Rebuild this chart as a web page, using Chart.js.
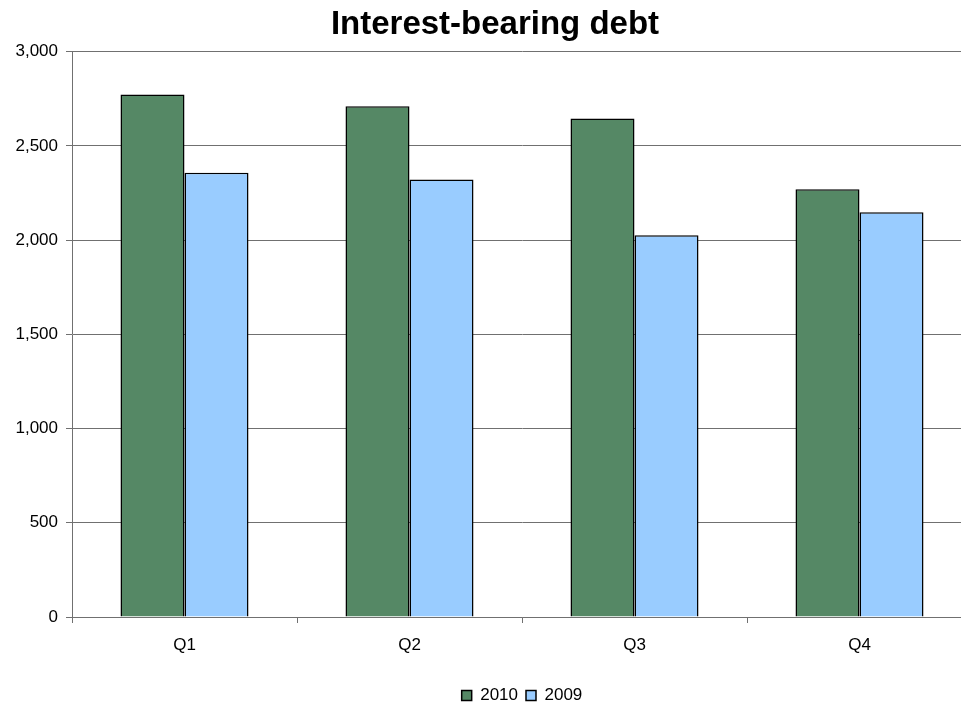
<!DOCTYPE html>
<html>
<head>
<meta charset="utf-8">
<script src="https://cdn.jsdelivr.net/npm/chart.js@4/dist/chart.umd.min.js"></script>
<style>
  html, body { margin: 0; padding: 0; background: #ffffff; overflow: hidden; }
  #wrap { position: relative; width: 980px; height: 704px; }
</style>
</head>
<body>
<div id="wrap"><canvas id="c" width="980" height="704"></canvas></div>
<script>
const chartTitle = 'Interest-bearing debt';
const categories = ['Q1', 'Q2', 'Q3', 'Q4'];
const seriesNames = ['2010', '2009'];
const values2010 = [2772, 2710, 2645, 2270];
const values2009 = [2357, 2321, 2026, 2147];
const yTicks = [0, 500, 1000, 1500, 2000, 2500, 3000];

const axisColor = '#707070';
const fontFamily = 'Arial, "Liberation Sans", sans-serif';

// shift the title slightly right so it sits where the reference has it
const titleShift = {
  id: 'titleShift',
  afterLayout(chart) {
    if (chart.titleBlock) {
      chart.titleBlock.left += 9;
      chart.titleBlock.right += 9;
    }
  }
};

new Chart(document.getElementById('c'), {
  type: 'bar',
  data: {
    labels: categories,
    datasets: [
      { label: seriesNames[0], data: values2010, backgroundColor: '#558865', borderColor: '#000000', borderWidth: 1.5 },
      { label: seriesNames[1], data: values2009, backgroundColor: '#99CCFF', borderColor: '#000000', borderWidth: 1.5 }
    ]
  },
  plugins: [titleShift],
  options: {
    responsive: false,
    animation: false,
    layout: { padding: { left: 0, right: 8, top: 0, bottom: -10 } },
    datasets: { bar: { categoryPercentage: 0.569, barPercentage: 1.0 } },
    plugins: {
      title: {
        display: true,
        text: chartTitle,
        color: '#000000',
        font: { family: fontFamily, size: 33, weight: 'bold' },
        padding: { top: 5, bottom: 7 }
      },
      legend: {
        position: 'bottom',
        fullSize: false,
        labels: {
          color: '#000000',
          font: { family: fontFamily, size: 17 },
          boxWidth: 10,
          boxHeight: 10,
          padding: 8,
          useBorderRadius: false
        }
      },
      tooltip: { enabled: false }
    },
    scales: {
      x: {
        grid: { drawOnChartArea: false, drawTicks: true, tickLength: 6, color: axisColor, offset: true },
        border: { color: axisColor, width: 1 },
        ticks: { color: '#000000', font: { family: fontFamily, size: 17 }, padding: 12 },
        afterFit: s => { s.height = 62; }
      },
      y: {
        min: 0,
        max: 3000,
        afterBuildTicks: s => { s.ticks = yTicks.map(v => ({ value: v })); },
        grid: { color: axisColor, drawTicks: true, tickLength: 6 },
        border: { color: axisColor, width: 1 },
        ticks: {
          color: '#000000',
          font: { family: fontFamily, size: 17 },
          padding: 8,
          callback: v => Number(v).toLocaleString('en-US')
        },
        afterFit: s => { s.width = 72; }
      }
    }
  }
});
</script>
</body>
</html>
